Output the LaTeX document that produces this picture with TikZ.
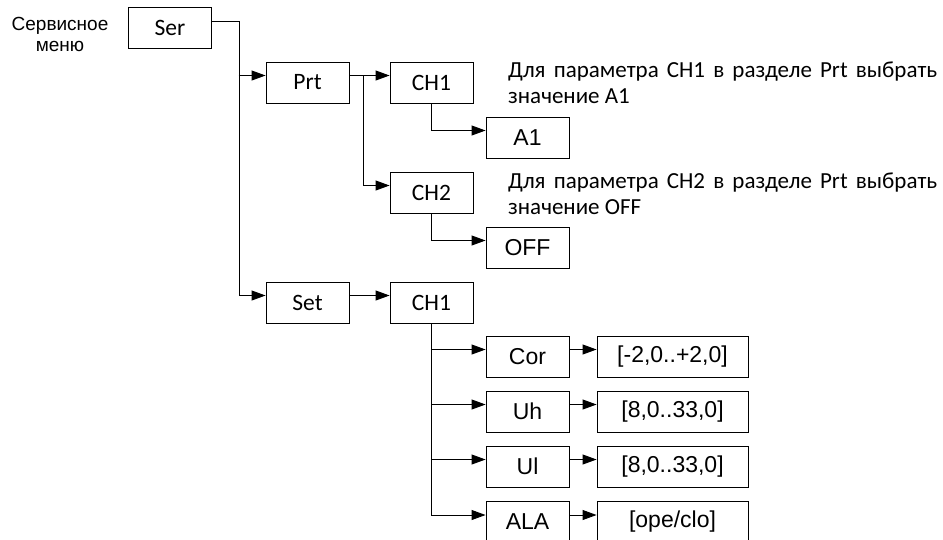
\documentclass[tikz,border=0pt]{standalone}
\usepackage{fontspec}
\usetikzlibrary{arrows.meta}
\newfontfamily\calfont{Carlito}
\newfontfamily\arfont{Liberation Sans}
\tikzset{
  box/.style={draw, line width=0.9pt, minimum width=83pt, minimum height=41pt,
    inner sep=0pt, font=\calfont\fontsize{23.5}{27}\selectfont},
  valbox/.style={box, font=\arfont\fontsize{23}{26}\selectfont},
  rangebox/.style={valbox, minimum width=151pt},
  link/.style={line width=0.9pt, -{Triangle[length=14pt,width=10pt]}},
  note/.style={anchor=north west, text width=429pt, align=justify, inner sep=0pt,
    font=\calfont\fontsize{23}{26}\selectfont}
}
\begin{document}
\begin{tikzpicture}[x=1pt,y=-1pt]
    \useasboundingbox (0,0) rectangle (943,539);
    \node[align=center, font=\arfont\fontsize{19}{21}\selectfont] (menu) at (60,34)
      {Сервисное\\меню};
    \node[box] (ser) at (170,28) {Ser};
    \node[box] (prt) at (307.5,82.5) {Prt}; \node[box] (prtch1) at (431.5,82.5) {CH1};
    \node[valbox] (a1) at (527.5,137.5) {A1}; \node[box] (prtch2) at (431.5,192.5) {CH2};
    \node[valbox] (off) at (527.5,247.5) {OFF};
    \node[box] (set) at (307.5,302.5) {Set}; \node[box] (setch1) at (431.5,302.5) {CH1};
    \node[valbox] (cor) at (527.5,356.5) {Cor}; \node[rangebox] (corval) at (672.5,356.5) {[-2,0..+2,0]};
    \node[valbox] (uh) at (527.5,411.5) {Uh}; \node[rangebox] (uhval) at (672.5,411.5) {[8,0..33,0]};
    \node[valbox] (ul) at (527.5,466.5) {Ul}; \node[rangebox] (ulval) at (672.5,466.5) {[8,0..33,0]};
    \node[valbox] (ala) at (527.5,522) {ALA}; \node[rangebox] (alaval) at (672.5,522) {[ope/clo]};
    \node[note] (note1) at (508,62) {Для параметра CH1 в разделе Prt выбрать значение A1};
    \node[note] (note2) at (508,173) {Для параметра CH2 в разделе Prt выбрать значение OFF};
    \draw[link] ([yshift=7pt]ser.east) -- ++(27,0) |- ([yshift=7pt]set.west);
    \draw[link] ([xshift=-27pt,yshift=7pt]prt.west) -- ([yshift=7pt]prt.west);
    \draw[link] ([yshift=7pt]prt.east) -- ([yshift=7pt]prtch1.west);
    \draw[link] ([xshift=14pt,yshift=7pt]prt.east) |- ([yshift=7pt]prtch2.west);
    \draw[link] (prtch1.south) |- ([yshift=7pt]a1.west);
    \draw[link] (prtch2.south) |- ([yshift=7pt]off.west);
    \draw[link] ([yshift=7pt]set.east) -- ([yshift=7pt]setch1.west);
    \foreach \p in {cor,uh,ul,ala} {
      \draw[link] (setch1.south) |- ([yshift=7pt]\p.west);
      \draw[link] ([yshift=7pt]\p.east) -- ([yshift=7pt]\p val.west); }
  \end{tikzpicture}
\end{document}
